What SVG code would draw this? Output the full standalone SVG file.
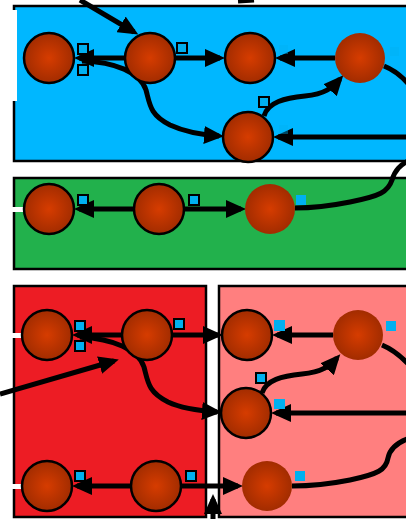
<svg xmlns="http://www.w3.org/2000/svg" width="406" height="519" viewBox="0 0 406 519">
<style>
.panel{stroke:#000;stroke-width:2.5}
.n{fill:url(#ball);stroke:#000;stroke-width:2.5}
.nn{fill:url(#ball)}
.sq{fill:#00b0f0;stroke:#000;stroke-width:2}
.sqn{fill:#00b0f0}
.e{fill:none;stroke:#000;stroke-width:5}
.ea{fill:none;stroke:#000;stroke-width:5;marker-end:url(#ah)}
.wb{fill:#fff}
</style>
<defs>
<radialGradient id="ball" cx="0.5" cy="0.5" r="0.5">
<stop offset="0" stop-color="#d63c00"/>
<stop offset="1" stop-color="#a22c00"/>
</radialGradient>
<marker id="ah" markerUnits="userSpaceOnUse" markerWidth="20" markerHeight="18" refX="15" refY="9" orient="auto" viewBox="0 0 20 18">
<path d="M0,0 L20,9 L0,18 z" fill="#000"/>
</marker>
</defs>
<rect width="406" height="519" fill="#fff"/>
<g id="panels">
<rect id="p-blue" class="panel" x="14" y="6" width="400" height="155" fill="#00b7ff"/>
<rect id="p-green" class="panel" x="14" y="178" width="400" height="91" fill="#22b14c"/>
<rect id="p-red" class="panel" x="14" y="286" width="192" height="231" fill="#ed1c24"/>
<rect id="p-pink" class="panel" x="219" y="286" width="200" height="231" fill="#ff7f7f"/>
<rect class="wb" x="0" y="10" width="17" height="91"/>
<rect class="wb" x="0" y="207" width="24" height="5"/>
<rect class="wb" x="0" y="333" width="22" height="5"/>
<rect class="wb" x="0" y="484" width="22" height="5"/>
</g>
<g id="connectors">
<path class="ea" d="M80,0 L134,32"/>
<path class="e" d="M238,1 L254,0"/>
<path class="ea" d="M125,58 L79,58"/>
<path class="ea" d="M82,61 C115,62 140,72 146,90 C150,105 150,115 170,125 C185,132 205,135 219,136"/>
<path class="ea" d="M175,58 L220,58"/>
<path class="ea" d="M335,58 L280,58"/>
<path class="ea" d="M264,116 C268,102 285,98 305,96 C325,94 332,88 340,79"/>
<path class="ea" d="M410,137 L278,137"/>
<path class="e" d="M384,66 C394,70 402,76 410,86"/>
<path class="e" d="M410,160 C400,165 395,170 392,180 C388,192 380,196 350,202 C330,206 310,208 295,208"/>
<path class="ea" d="M134,209 L79,209"/>
<path class="ea" d="M184,209 L241,209"/>
<path class="ea" d="M122,335 L77,335"/>
<path class="ea" d="M80,337 C113,339 138,349 144,367 C148,382 148,392 168,402 C183,409 203,411 217,412"/>
<path class="ea" d="M172,335 L218,335"/>
<path class="ea" d="M333,335 L277,335"/>
<path class="ea" d="M262,393 C266,380 282,376 302,374 C322,372 330,366 337,358"/>
<path class="ea" d="M410,413 L276,413"/>
<path class="e" d="M382,345 C394,350 402,357 410,366"/>
<path class="e" d="M410,438 C398,442 390,448 388,458 C386,470 378,474 350,480 C330,484 310,486 292,486"/>
<path class="ea" d="M131,486 L77,486"/>
<path class="ea" d="M181,486 L238,486"/>
<path class="ea" d="M213,519 L213,499"/>
<path class="ea" d="M0,394 L114,361"/>
</g>
<g id="n1"><circle class="n" cx="49" cy="58" r="25"/><rect class="sq" x="78" y="44" width="10" height="10"/><rect class="sq" x="78" y="65" width="10" height="10"/></g>
<g id="n2"><circle class="n" cx="150" cy="58" r="25"/><rect class="sq" x="177" y="43" width="10" height="10"/></g>
<g id="n3"><circle class="n" cx="250" cy="58" r="25"/><rect class="sqn" x="279" y="45" width="9" height="9" opacity="0.4"/></g>
<g id="n4"><circle class="nn" cx="360" cy="58" r="25"/><rect class="sqn" x="390" y="47" width="9" height="9" opacity="0.4"/></g>
<g id="n5"><circle class="n" cx="248" cy="137" r="25"/><rect class="sq" x="259" y="97" width="10" height="10"/><rect class="sqn" x="279" y="125" width="9" height="9" opacity="0.4"/></g>
<g id="g1"><circle class="n" cx="49" cy="209" r="25"/><rect class="sq" x="78" y="195" width="10" height="10"/></g>
<g id="g2"><circle class="n" cx="159" cy="209" r="25"/><rect class="sq" x="189" y="195" width="10" height="10"/></g>
<g id="g3"><circle class="nn" cx="270" cy="209" r="25"/><rect class="sqn" x="296" y="195" width="10" height="10"/></g>
<g id="r1"><circle class="n" cx="47" cy="335" r="25"/><rect class="sq" x="75" y="321" width="10" height="10"/><rect class="sq" x="75" y="341" width="10" height="10"/></g>
<g id="r2"><circle class="n" cx="147" cy="335" r="25"/><rect class="sq" x="174" y="319" width="10" height="10"/></g>
<g id="r3"><circle class="n" cx="247" cy="335" r="25"/><rect class="sqn" x="274" y="320" width="11" height="11"/></g>
<g id="r4"><circle class="nn" cx="358" cy="335" r="25"/><rect class="sqn" x="386" y="321" width="10" height="10"/></g>
<g id="r5"><circle class="n" cx="246" cy="413" r="25"/><rect class="sq" x="256" y="373" width="10" height="10"/><rect class="sqn" x="274" y="399" width="11" height="10"/></g>
<g id="r6"><circle class="n" cx="47" cy="486" r="25"/><rect class="sq" x="75" y="471" width="10" height="10"/></g>
<g id="r7"><circle class="n" cx="156" cy="486" r="25"/><rect class="sq" x="186" y="471" width="10" height="10"/></g>
<g id="r8"><circle class="nn" cx="267" cy="486" r="25"/><rect class="sqn" x="295" y="471" width="10" height="10"/></g>
</svg>
